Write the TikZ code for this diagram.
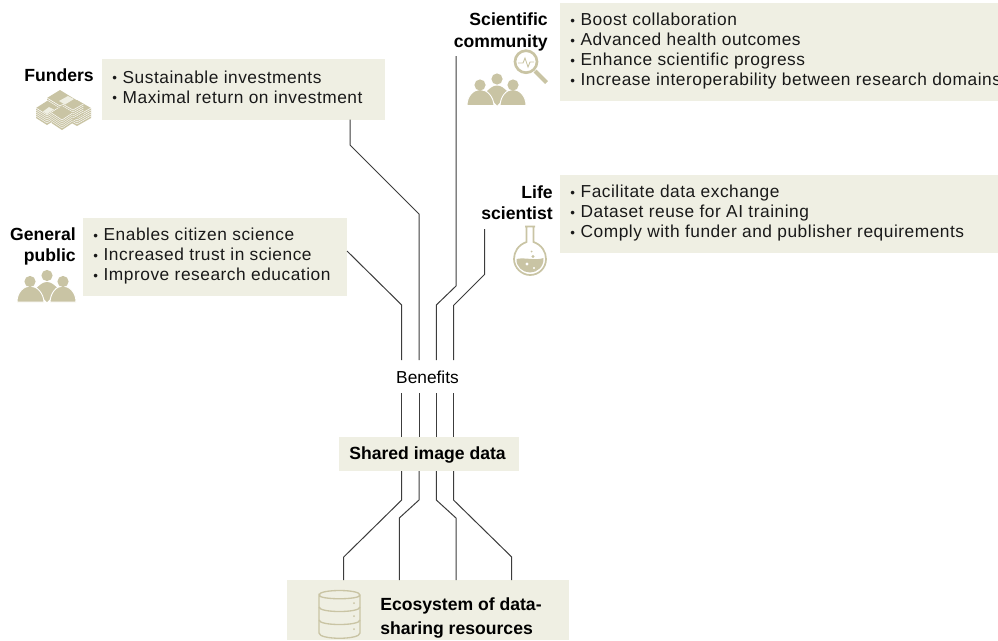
\documentclass[tikz,border=0pt]{standalone}
\usepackage{fontspec}
\setmainfont{Liberation Sans}
\definecolor{boxbg}{HTML}{EFEFE3}
\definecolor{icon}{HTML}{C9C4A4}
\definecolor{linec}{HTML}{3C3C3C}
\newcommand{\bl}{\makebox[7.8pt][l]{\fontsize{10pt}{10pt}\selectfont\raisebox{0.4pt}{•}}}
\newcommand{\peoplefig}[2]{%
 \begin{scope}[shift={(#1,#2)}]
  \fill[icon] (18,-12) .. controls (22,-17) and (26,-20) .. (30,-20) .. controls (34,-20) and (38,-17) .. (42,-12) -- (30,0) -- cycle;
  \fill[icon,draw=white,line width=0.7pt] (0,0) .. controls (0,-10) and (7,-16) .. (13,-16) .. controls (20,-16) and (26.5,-9) .. (27,0) -- cycle;
  \fill[icon,draw=white,line width=0.7pt] (59,0) .. controls (59,-10) and (52,-16) .. (46,-16) .. controls (39,-16) and (33.5,-9) .. (33,0) -- cycle;
  \fill[icon] (13,-20.5) circle (5.6) (30,-26.5) circle (5.6) (46,-20.5) circle (5.6);
 \end{scope}}
\newcommand{\billstack}[5]{%
  \fill[icon] (#1,#2-#4) -- (#1+#3,#2) -- (#1+#3,#2+#5) -- (#1,#2+#4+#5) -- (#1-#3,#2+#5) -- (#1-#3,#2) -- cycle;
  \foreach \k in {2,4,6,8}{\draw[white,line width=0.3pt] (#1-#3,#2+\k) -- (#1,#2+#4+\k) -- (#1+#3,#2+\k);}
  \draw[white,line width=0.4pt] (#1-#3,#2) -- (#1,#2+#4) -- (#1+#3,#2);
}
\tikzset{x=0.75pt,y=-0.75pt,
 panel/.style={fill=boxbg,draw=none},
 wire/.style={draw=linec,line width=0.75pt,line join=miter},
 lst/.style={anchor=west,inner sep=0,font=\fontsize{13pt}{15pt}\addfontfeatures{LetterSpace=3}\selectfont,align=left,text=black!90},
 who/.style={anchor=east,inner sep=0,font=\fontsize{13.2pt}{16pt}\selectfont\bfseries,align=right},
 bold/.style={anchor=west,inner sep=0,font=\fontsize{13.2pt}{18pt}\selectfont\bfseries,align=left},
 iconline/.style={draw=icon,line width=1pt}}
\begin{document}
\begin{tikzpicture}
\useasboundingbox (0,0) rectangle (998,640);
% panels
\fill[panel] (560,3) rectangle (998,100.5);
\fill[panel] (102,59) rectangle (385,119.5);
\fill[panel] (560,175) rectangle (998,252.7);
\fill[panel] (83,218) rectangle (347,296);
\fill[panel] (287,580) rectangle (569,640);
\node[panel,minimum width=135pt,minimum height=25.5pt,inner sep=0] (sid) at (429,454) {};
\node[bold] (sidt) at (349,455) {Shared image data};
% nodes for wires
\coordinate (fa) at (350,119.5);
\coordinate (ga) at (347,251);
\coordinate (sa) at (456,56);
\coordinate (la) at (484.7,229);
\node[inner sep=0,font=\fontsize{13pt}{14pt}\selectfont] (ben) at (427.5,377) {Benefits};
\coordinate (e1) at (343.7,580);
\coordinate (e2) at (399.3,580);
\coordinate (e3) at (456,580);
\coordinate (e4) at (511.7,580);
% wires top
\draw[wire] (fa) -- (350,145) -- (419,214) -- (419,360);
\draw[wire] (ga) -- (401.7,305) -- (401.7,360);
\draw[wire] (sa) -- (456,286) -- (436.3,305) -- (436.3,360);
\draw[wire] (la) -- (484.7,274.3) -- (453.5,305.5) -- (453.5,360);
% wires mid
\draw[wire] (401.7,393) -- (401.7,437);
\draw[wire] (419,393) -- (419,437);
\draw[wire] (436.3,393) -- (436.3,437);
\draw[wire] (453.5,393) -- (453.5,437);
% wires bottom
\draw[wire] (401.7,471) -- (401.7,500) -- (e1 |- 0,557) -- (e1);
\draw[wire] (419,471) -- (419,500) -- (e2 |- 0,518) -- (e2);
\draw[wire] (436.3,471) -- (436.3,500) -- (e3 |- 0,518) -- (e3);
\draw[wire] (453.5,471) -- (453.5,500) -- (e4 |- 0,557) -- (e4);
% texts
\node[who] (fun) at (94,75.5) {Funders};
\node[who] (gen) at (76,246.5) {General\\public};
\node[who] (sci) at (548,32) {Scientific\\community};
\node[who] (lif) at (553,203) {Life\\scientist};
\node[lst] (l1) at (112,87) {\bl Sustainable investments\\\bl Maximal return on investment};
\node[lst] (l2) at (93,256.5) {\bl Enables citizen science\\\bl Increased trust in science\\\bl Improve research education};
\node[lst] (l3) at (570,51.5) {\bl Boost collaboration\\\bl Advanced health outcomes\\\bl Enhance scientific progress\\\bl Increase interoperability between research domains};
\node[lst] (l4) at (570,213.5) {\bl Facilitate data exchange\\\bl Dataset reuse for AI training\\\bl Comply with funder and publisher requirements};
\node[bold] (eco) at (380,618) {Ecosystem of data-\\sharing resources};
% people icons
\peoplefig{17}{302}
\peoplefig{467}{105.5}
% magnifier
\draw[icon,line width=2pt] (526,61.7) circle (11);
\draw[icon,line width=3pt] (535,71) -- (546.5,82.5);
\draw[icon,line width=0.7pt] (518,63) -- (523,63) -- (525,58) -- (528,67) -- (530,62) -- (534,62);
% flask
\draw[icon,line width=1.3pt] (525,226.5) -- (535,226.5) (526.5,226.5) -- (526.5,242) .. controls (518,245) and (514,252) .. (514,259) .. controls (514,268) and (522,275) .. (530,275) .. controls (539,275) and (546,268) .. (546,259) .. controls (546,252) and (542,245) .. (533.5,242) -- (533.5,226.5);
\fill[icon] (516.5,259) .. controls (525,257) and (535,261) .. (543.5,258) .. controls (544,267) and (537,272.5) .. (530,272.5) .. controls (523,272.5) and (516,267) .. (516.5,259) -- cycle;
\fill[white] (527,264) circle (1.6) (534,268) circle (1.2);
\fill[icon] (533,256.5) circle (1.7) (531.5,251.5) circle (1);
% database
\begin{scope}[iconline]
\draw (319,595) .. controls (319,589) and (360,589) .. (360,595) .. controls (360,600) and (319,600) .. (319,595) -- (319,633) .. controls (319,640) and (360,640) .. (360,633) -- (360,595);
\draw (319,607) .. controls (319,613) and (360,613) .. (360,607);
\draw (319,620) .. controls (319,626) and (360,626) .. (360,620);
\end{scope}
\fill[icon] (354,603) circle (1) (354,616) circle (1) (354,629) circle (1);
% bills
\billstack{77}{108}{14}{8}{10}
\billstack{60}{98}{13}{8}{10}
\billstack{73}{104}{10.5}{6}{10}
\billstack{47}{108}{11}{7}{10}
\billstack{62}{113}{10.5}{7}{10}
\fill[boxbg] (68,96) -- (74,99) -- (65,104.5) -- (59,101) -- cycle;
\fill[boxbg] (49,107) -- (54,109.5) -- (47,114) -- (43,111.5) -- cycle;
\end{tikzpicture}
\end{document}
